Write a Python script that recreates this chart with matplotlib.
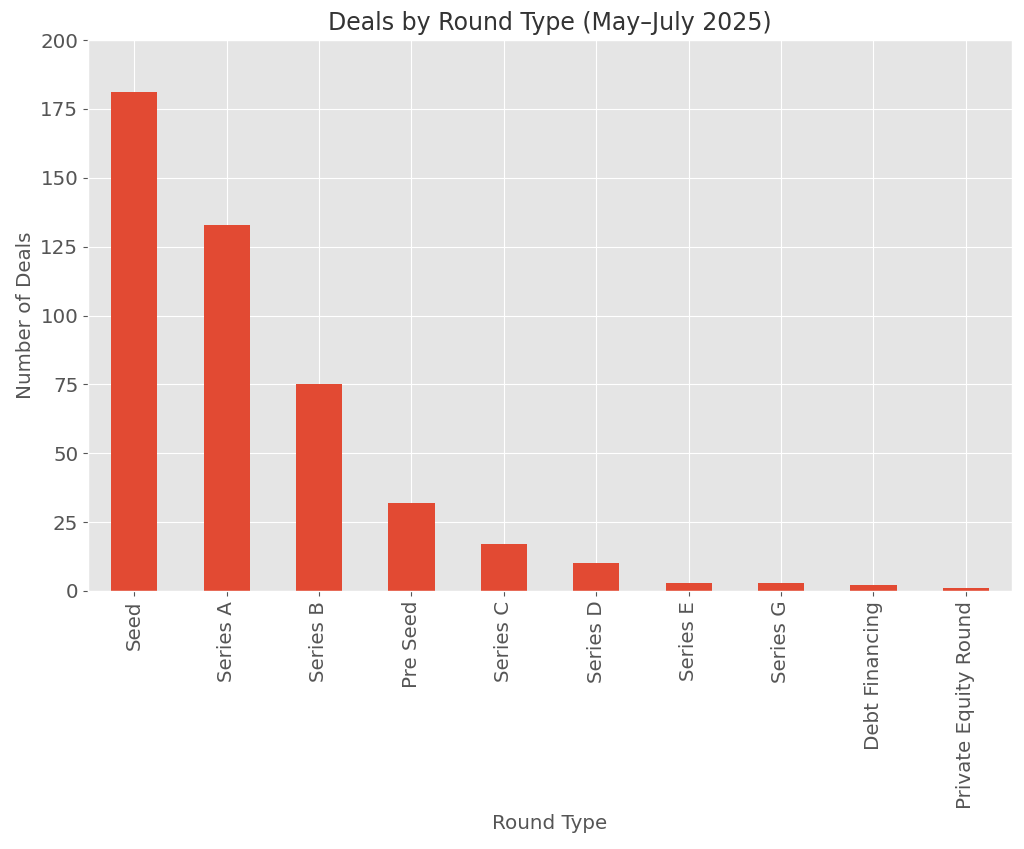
import matplotlib
matplotlib.use("Agg")
import matplotlib.pyplot as plt
import pandas as pd

plt.style.use("ggplot")

round_types = ["Seed", "Series A", "Series B", "Pre Seed", "Series C", "Series D",
               "Series E", "Series G", "Debt Financing", "Private Equity Round"]
deal_counts = [181, 133, 75, 32, 17, 10, 3, 3, 2, 1]

s = pd.Series(deal_counts, index=round_types)
fig = plt.figure(figsize=(10.24, 8.49), dpi=100)
ax = fig.add_axes([88/1024, 1 - 591/849, (1012-88)/1024, (591-40)/849])
s.plot(kind="bar", ax=ax, color="#E24A33")
ax.set_title("Deals by Round Type (May\u2013July 2025)", fontsize=17, color="#333333", pad=7)
ax.set_xlabel("Round Type", fontsize=14.3)
ax.set_ylabel("Number of Deals", fontsize=14.3)
ax.set_ylim(0, 200)
ax.tick_params(axis="both", labelsize=14.3)
ax.grid(True, color="white", linewidth=0.8)
fig.savefig("out.png", dpi=100)
